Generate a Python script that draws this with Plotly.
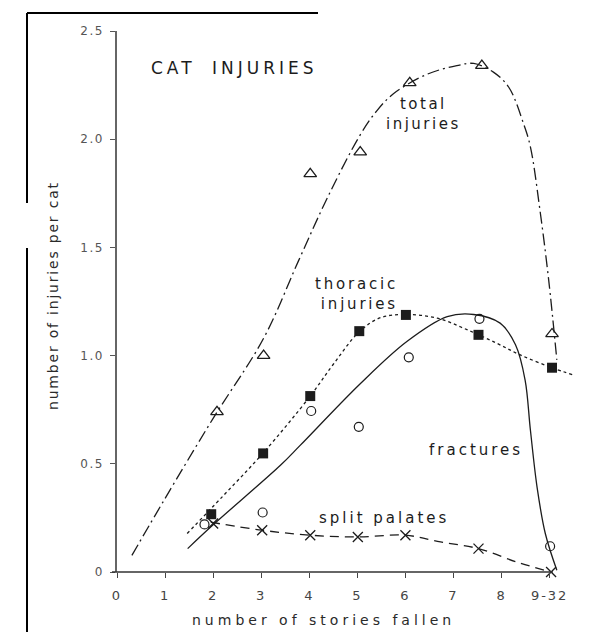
import plotly.graph_objects as go

# ---------------- data ----------------
x_tick_vals = [0, 1, 2, 3, 4, 5, 6, 7, 8, 9]
x_tick_text = ["0", "1", "2", "3", "4", "5", "6", "7", "8", "9-32"]
y_tick_vals = [0, 0.5, 1.0, 1.5, 2.0, 2.5]
y_tick_text = ["0", "0.5", "1.0", "1.5", "2.0", "2.5"]

total_x = [2.08, 3.05, 4.02, 5.06, 6.09, 7.59, 9.05]
total_y = [0.74, 1.00, 1.84, 1.94, 2.26, 2.34, 1.10]
thoracic_x = [1.96, 3.04, 4.02, 5.04, 6.01, 7.52, 9.05]
thoracic_y = [0.267, 0.548, 0.813, 1.113, 1.188, 1.096, 0.944]
fracture_x = [1.82, 3.03, 4.04, 5.03, 6.07, 7.54, 9.01]
fracture_y = [0.22, 0.275, 0.744, 0.671, 0.992, 1.17, 0.119]
palate_x = [2.00, 3.02, 4.02, 5.01, 6.00, 7.52, 9.03]
palate_y = [0.224, 0.193, 0.170, 0.162, 0.170, 0.108, 0.0]

# hand-drawn fitted curves
total_curve_x = [0.31, 1.0, 2.0, 3.05, 3.78, 4.4, 5.06, 5.4, 5.75, 6.45, 7.07, 7.42, 7.83, 8.15, 8.46, 8.6, 8.8, 8.98, 9.15]
total_curve_y = [0.077, 0.34, 0.71, 1.08, 1.44, 1.74, 2.02, 2.13, 2.21, 2.30, 2.34, 2.35, 2.31, 2.24, 2.07, 1.965, 1.67, 1.35, 0.98]
thoracic_curve_x = [1.46, 2.2, 3.04, 4.02, 4.5, 5.04, 5.48, 6.01, 6.66, 7.28, 7.9, 8.39, 9.05, 9.5]
thoracic_curve_y = [0.178, 0.35, 0.55, 0.813, 0.96, 1.11, 1.175, 1.19, 1.173, 1.12, 1.057, 1.003, 0.944, 0.91]
fracture_curve_x = [1.47, 2.0, 3.4, 3.81, 5.06, 6.03, 6.87, 7.42, 7.97, 8.29, 8.49, 8.6, 8.74, 8.91, 9.15]
fracture_curve_y = [0.108, 0.218, 0.493, 0.585, 0.87, 1.065, 1.18, 1.19, 1.15, 1.05, 0.887, 0.656, 0.39, 0.178, 0.008]
palate_curve_x = [1.95, 3.02, 4.02, 5.01, 6.0, 6.73, 7.52, 8.32, 9.03]
palate_curve_y = [0.23, 0.193, 0.170, 0.162, 0.170, 0.139, 0.108, 0.046, 0.0]

# ---------------- layout geometry ----------------
OFF = 8                      # page body margin added by the browser
W, H = 589 - OFF, 632 - OFF
L, R, T, B = 117 - OFF, 6, 31 - OFF, 60
PW, PH = W - L - R, H - T - B
FONT = "DejaVu Sans"
INK = "#1c1c1c"


def P(px, py):
    """reference-picture pixel -> paper coordinates"""
    return (px - OFF - L) / PW, (H - B - (py - OFF)) / PH


def sp(text, spacing, word=None):
    style = f"letter-spacing:{spacing}px"
    if word is not None:
        style += f";word-spacing:{word}px"
    return f'<span style="{style}">{text}</span>'


fig = go.Figure()

line_w = 1.3
fig.add_trace(go.Scatter(x=total_curve_x, y=total_curve_y, mode="lines", line_shape="spline",
                         line=dict(color=INK, width=line_w, dash="12px,4px,2px,4px"), hoverinfo="skip"))
fig.add_trace(go.Scatter(x=thoracic_curve_x, y=thoracic_curve_y, mode="lines", line_shape="spline",
                         line=dict(color=INK, width=line_w, dash="3px,3px"), hoverinfo="skip"))
fig.add_trace(go.Scatter(x=fracture_curve_x, y=fracture_curve_y, mode="lines", line_shape="spline",
                         line=dict(color=INK, width=line_w), hoverinfo="skip"))
fig.add_trace(go.Scatter(x=palate_curve_x, y=palate_curve_y, mode="lines", line_shape="spline",
                         line=dict(color=INK, width=line_w, dash="9px,6px"), hoverinfo="skip"))

fig.add_trace(go.Scatter(x=total_x, y=total_y, mode="markers", cliponaxis=False,
                         marker=dict(symbol="triangle-up-open", size=11, color=INK, line=dict(width=1.3))))
fig.add_trace(go.Scatter(x=thoracic_x, y=thoracic_y, mode="markers", cliponaxis=False,
                         marker=dict(symbol="square", size=10, color=INK, line=dict(width=0))))
fig.add_trace(go.Scatter(x=fracture_x, y=fracture_y, mode="markers", cliponaxis=False,
                         marker=dict(symbol="circle-open", size=9, color=INK, line=dict(width=1.2))))
fig.add_trace(go.Scatter(x=palate_x, y=palate_y, mode="markers", cliponaxis=False,
                         marker=dict(symbol="x-thin-open", size=10, color=INK, line=dict(width=1.3))))

annotations = []


def add_text(text, px, py, size, xanchor="center", align="center", angle=0, color=INK):
    x, y = P(px, py)
    annotations.append(dict(text=text, x=x, y=y, xref="paper", yref="paper", showarrow=False,
                            xanchor=xanchor, yanchor="middle", align=align, textangle=angle,
                            font=dict(family=FONT, size=size, color=color)))


add_text(sp("CAT INJURIES", 4, 7), 149, 68, 17, xanchor="left")
add_text(sp("total", 2.5) + "<br>" + sp("injuries", 2.5), 423, 114, 15)
add_text(sp("thoracic", 2.8) + "<br>" + sp("injuries", 2.8), 400, 294, 15, xanchor="right", align="right")
add_text(sp("fractures", 3), 476, 450, 15)
add_text(sp("split palates", 3), 384, 518, 15)
add_text(sp("number of stories fallen", 4), 323, 620, 14, color="#2a2a2a")
add_text(sp("number of injuries per cat", 1.8), 53, 296, 14, angle=-90, color="#2a2a2a")

# scan artefacts (page border pieces)
shapes = []


def seg(x0, y0, x1, y1, w=2, color="#000"):
    a, b = P(x0, y0)
    c, d = P(x1, y1)
    shapes.append(dict(type="line", xref="paper", yref="paper", x0=a, y0=b, x1=c, y1=d,
                       line=dict(color=color, width=w)))


seg(27, 13, 27, 203)
seg(27, 248, 27, 640)
seg(27, 13, 318, 13)
# x axis line (ends at the last category)
seg(112, 572, 553, 572, w=1.5, color="#333")

fig.update_layout(
    width=W, height=H,
    margin=dict(l=L, r=R, t=T, b=B, pad=0),
    paper_bgcolor="white", plot_bgcolor="white",
    showlegend=False,
    annotations=annotations,
    shapes=shapes,
    xaxis=dict(range=[0, PW / 48.07], tickvals=x_tick_vals,
               ticktext=[sp(t, 2) for t in x_tick_text],
               ticks="outside", ticklen=5, tickwidth=1.2, tickcolor="#444",
               ticklabelstandoff=6,
               showgrid=False, zeroline=False, showline=False,
               tickfont=dict(family=FONT, size=13, color="#444")),
    yaxis=dict(range=[0, 2.5], tickvals=y_tick_vals,
               ticktext=[sp(t, 1.5) for t in y_tick_text],
               ticks="outside", ticklen=5, tickwidth=1.2, tickcolor="#555",
               ticklabelstandoff=4,
               showgrid=False, zeroline=False, showline=True, linecolor="#666", linewidth=1.5,
               tickfont=dict(family=FONT, size=12, color="#555")),
)

fig.write_html("out.html")
